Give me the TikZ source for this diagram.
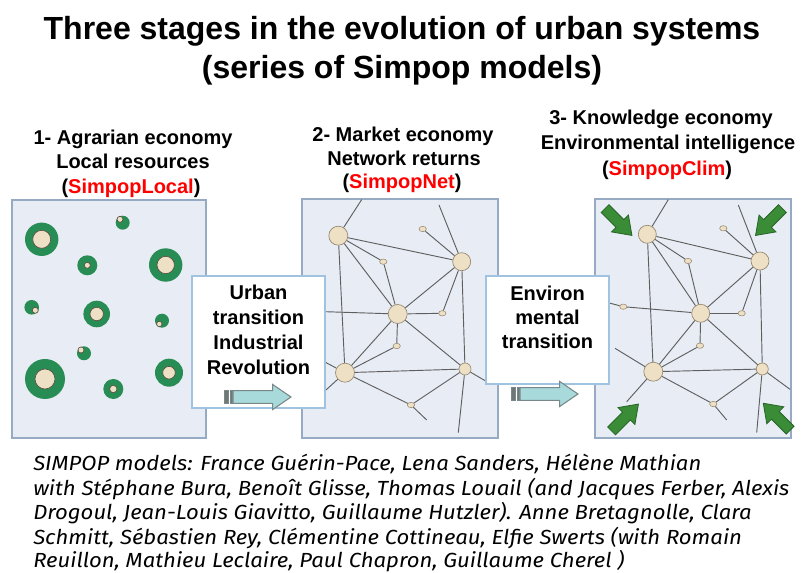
\documentclass[tikz,border=0pt]{standalone}
\usepackage{fontspec}
\setmainfont{Liberation Sans}
\newfontfamily\creditfont{Fira Sans}
\usetikzlibrary{shapes.geometric}
\definecolor{panelfill}{RGB}{232,237,245}
\definecolor{paneldraw}{RGB}{150,170,195}
\definecolor{citygreen}{RGB}{40,140,85}
\definecolor{cityfill}{RGB}{238,224,197}
\definecolor{cityline}{RGB}{90,80,65}
\definecolor{netline}{RGB}{95,95,95}
\definecolor{nodedraw}{RGB}{150,135,110}
\definecolor{boxdraw}{RGB}{160,195,225}
\definecolor{simred}{RGB}{255,0,0}
\definecolor{arrowfill}{RGB}{168,218,220}
\definecolor{arrowdraw}{RGB}{120,135,135}
\definecolor{stripefill}{RGB}{110,118,118}
\definecolor{greenfill}{RGB}{58,140,55}
\definecolor{greendraw}{RGB}{40,100,40}
\newcommand\mkcity[4]{%
  \fill[citygreen] (#1) circle[radius=#2];
  \filldraw[fill=cityfill, draw=cityline, line width=0.5pt] (#3) circle[radius=#4];
}
\newcommand\creditline[1]{\scalebox{1.083}[1]{#1}}
\tikzset{
  panel/.style={draw=paneldraw, fill=panelfill, line width=1.2pt},
  big/.style={circle, draw=nodedraw, fill=cityfill, line width=0.5pt, inner sep=0pt, minimum size=#1},
  small/.style={ellipse, draw=nodedraw, fill=cityfill, line width=0.4pt, inner sep=0pt, minimum width=5.5pt, minimum height=4pt},
  link/.style={draw=netline, line width=0.7pt},
  tbox/.style={draw=boxdraw, fill=white, line width=0.8pt, inner sep=0pt},
  titletext/.style={font=\bfseries\fontsize{24}{28}\selectfont, anchor=base, inner sep=0pt},
  headtext/.style={font=\bfseries\fontsize{15}{18}\selectfont, anchor=base, inner sep=0pt},
  boxtext/.style={font=\bfseries\fontsize{15}{18}\selectfont, anchor=base, inner sep=0pt},
  credit/.style={font=\creditfont\itshape\fontsize{15.3}{18}\selectfont, anchor=base west, inner sep=0pt},
  tarrow/.pic={
    \filldraw[fill=stripefill, draw=arrowdraw, line width=0.4pt] (0,-6.3) rectangle (4.5,6.3);
    \filldraw[fill=stripefill, draw=arrowdraw, line width=0.4pt] (5.8,-6.3) rectangle (8,6.3);
    \filldraw[fill=arrowfill, draw=arrowdraw, line width=0.8pt] (9,-6.3) -- (48.7,-6.3) -- (48.7,-12.5) -- (67,0) -- (48.7,12.5) -- (48.7,6.3) -- (9,6.3) -- cycle;
  },
  garrow/.pic={
    \filldraw[fill=greenfill, draw=greendraw, line width=0.6pt] (-19,-5.5) -- (2,-5.5) -- (2,-12) -- (19,0) -- (2,12) -- (2,5.5) -- (-19,5.5) -- cycle;
  }
}
\begin{document}
\begin{tikzpicture}[x=0.75pt, y=-0.75pt]
\useasboundingbox[fill=white] (0,0) rectangle (804,573);

% title
\node[titletext] (title1) at (402,40) {Three stages in the evolution of urban systems};
\node[titletext] (title2) at (402,79) {(series of Simpop models)};

% headings
\node[headtext] (h1a) at (133,145) {1- Agrarian economy};
\node[headtext] (h1b) at (133,169) {Local resources};
\node[headtext] (h1c) at (131,194) {(\textcolor{simred}{SimpopLocal})};
\node[headtext] (h2a) at (403,142) {2- Market economy};
\node[headtext] (h2b) at (404,165.5) {Network returns};
\node[headtext] (h2c) at (402,189) {(\textcolor{simred}{SimpopNet})};
\node[headtext] (h3a) at (661,125) {3- Knowledge economy};
\node[headtext] (h3b) at (668,150) {Environmental intelligence};
\node[headtext] (h3c) at (667,176) {(\textcolor{simred}{SimpopClim})};

% panels
\draw[panel] (12,200) rectangle (206,438);
\draw[panel] (302,199) rectangle (498,438);
\draw[panel] (595,199) rectangle (791,438);

% panel 1 : local cities
\mkcity{41.7,239.3}{16.7}{41.7,239.3}{9}
\mkcity{122.7,222.7}{7}{120,219.3}{3}
\mkcity{87.3,265.3}{10}{87.3,265.3}{3}
\mkcity{165.7,265}{16.7}{165.7,265}{8.7}
\mkcity{31.7,307.3}{7.3}{35.3,310.3}{3}
\mkcity{96.7,314}{13.3}{96.7,314}{6.7}
\mkcity{162,320.7}{7}{159.3,324}{2.7}
\mkcity{84,353.3}{7}{81,350}{3}
\mkcity{45,379}{20}{45,379}{10}
\mkcity{169,372.7}{14}{169,372.7}{6.3}
\mkcity{113.3,389}{10}{113.3,389}{3.7}

% panel 2 : network
\node[big=14.25pt] (A) at (338.3,235.7) {};
\node[big=13.5pt] (B) at (461.7,261.7) {};
\node[big=14.25pt] (C) at (397.7,314) {};
\node[big=14.25pt] (D) at (345,372.7) {};
\node[big=9pt] (E) at (465,369) {};
\node[small] (s1) at (422.7,229) {};
\node[small] (s2) at (383.3,261.7) {};
\node[small] (s3) at (442.3,313.3) {};
\node[small] (s4) at (396.7,346) {};
\node[small] (s5) at (411,405) {};
\coordinate (pt1) at (361.7,199.6);
\coordinate (pt2) at (439,205);
\coordinate (pl1) at (303,311);
\coordinate (pl2) at (303,350.4);
\coordinate (pl3) at (310,404.5);
\coordinate (pb1) at (426.7,420);
\coordinate (pb2) at (458.3,432.7);
\coordinate (pr) at (490,383.5);
\foreach \u/\v in {A/pt1,A/B,A/C,A/s2,A/D,pt2/B,s1/B,s2/C,B/C,B/s3,B/E,C/s3,C/pl1,C/D,C/s4,C/E,s4/D,D/E,D/pl2,D/pl3,D/s5,s5/pb1,E/s5,E/pb2,E/pr}
  \draw[link] (\u) -- (\v);

% panel 3 : network
\node[big=13.5pt] (A3) at (647.3,234.3) {};
\node[big=13.5pt] (B3) at (760,261) {};
\node[big=13.5pt] (C3) at (700.7,313.3) {};
\node[big=14.25pt] (D3) at (653.3,371.7) {};
\node[big=9pt] (E3) at (762.3,369) {};
\node[small] (t1) at (723.3,228.3) {};
\node[small] (t2) at (688,261) {};
\node[small] (t3) at (741.7,313.3) {};
\node[small] (t4) at (700,345.7) {};
\node[small] (t5) at (713.3,404) {};
\node[small] (t6) at (623.3,306.7) {};
\coordinate (qt1) at (668.3,199.6);
\coordinate (qt2) at (738.3,205);
\coordinate (ql1) at (596,299.5);
\coordinate (ql2) at (615,348.3);
\coordinate (ql3) at (626.7,401.7);
\coordinate (qb1) at (726.7,420);
\coordinate (qb2) at (756.7,432.7);
\coordinate (qr) at (790,389.3);
\foreach \u/\v in {A3/qt1,A3/B3,A3/C3,A3/t2,A3/D3,qt2/B3,t1/B3,t2/C3,B3/C3,B3/t3,B3/E3,C3/t3,C3/t6,t6/ql1,C3/D3,C3/t4,C3/E3,t4/D3,D3/E3,D3/ql2,D3/ql3,D3/t5,t5/qb1,E3/t5,E3/qb2,E3/qr}
  \draw[link] (\u) -- (\v);

% green arrows
\pic[rotate=-45] at (618.5,222) {garrow};
\pic[rotate=-135] at (769,222) {garrow};
\pic[rotate=45] at (625,417.5) {garrow};
\pic[rotate=135] at (776.7,416.7) {garrow};

% transition boxes
\node[tbox, minimum width=99.75pt, minimum height=99pt] (box1) at (258.5,342) {};
\node[tbox, minimum width=92.25pt, minimum height=81pt] (box2) at (547.5,330) {};
\node[boxtext] (b1a) at (258.5,299.5) {Urban};
\node[boxtext] (b1b) at (258.5,324.5) {transition};
\node[boxtext] (b1c) at (258.5,349.5) {Industrial};
\node[boxtext] (b1d) at (258.5,374.5) {Revolution};
\node[boxtext] (b2a) at (547.5,300.5) {Environ};
\node[boxtext] (b2b) at (547.5,324.5) {mental};
\node[boxtext] (b2c) at (547.5,348.5) {transition};
\pic at (224,397) {tarrow};
\pic at (511,394) {tarrow};

% credits
\node[credit] (c1) at (33,471) {\creditline{SIMPOP models: France Guérin-Pace, Lena Sanders, Hélène Mathian}};
\node[credit] (c2) at (33,495.5) {\creditline{with Stéphane Bura, Benoît Glisse, Thomas Louail (and Jacques Ferber, Alexis}};
\node[credit] (c3) at (33,520) {\creditline{Drogoul, Jean-Louis Giavitto, Guillaume Hutzler). Anne Bretagnolle, Clara}};
\node[credit] (c4) at (33,544.5) {\creditline{Schmitt, Sébastien Rey, Clémentine Cottineau, Elfie Swerts (with Romain}};
\node[credit] (c5) at (33,568) {\creditline{Reuillon, Mathieu Leclaire, Paul Chapron, Guillaume Cherel )}};
\end{tikzpicture}
\end{document}
